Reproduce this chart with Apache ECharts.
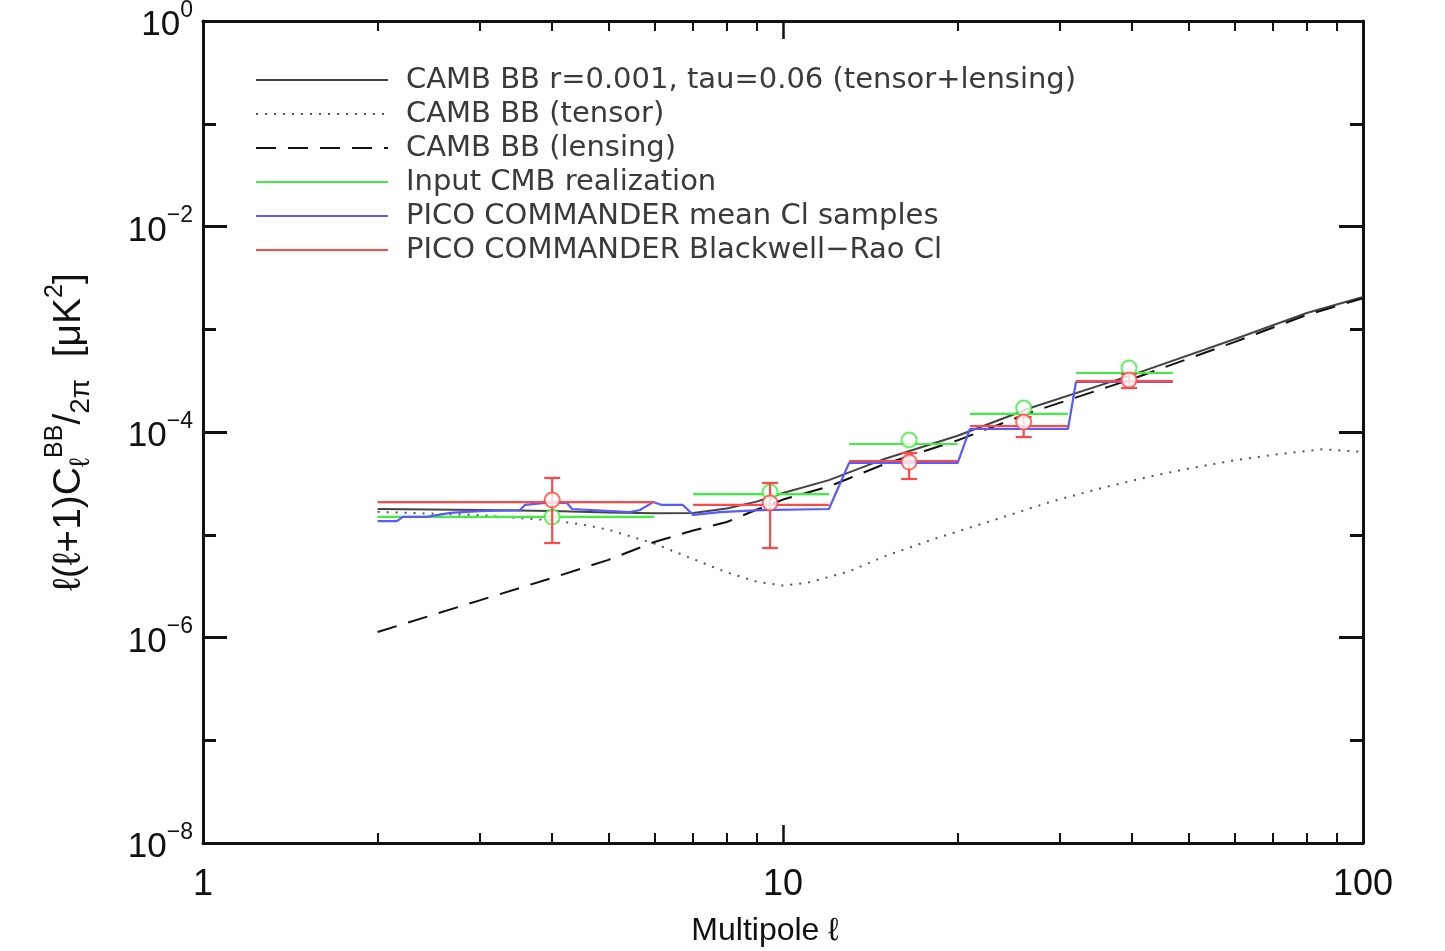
<!DOCTYPE html>
<html>
<head>
<meta charset="utf-8">
<title>BB power spectrum</title>
<script src="https://cdn.jsdelivr.net/npm/echarts@6/dist/echarts.min.js"></script>
<style>
  html, body { margin: 0; padding: 0; background: #fff; }
  #chart { width: 1445px; height: 951px; }
</style>
</head>
<body>
<div id="chart"></div>
<script>
'use strict'

// CAMB theory curves: multipole l -> l(l+1)C_l/2pi [uK^2]
const totalEll = [2, 3, 4, 5, 6, 7, 8, 9, 10, 12, 15, 20, 27, 40, 60, 80, 100]
const totalVal = [1.78e-5, 1.74e-5, 1.70e-5, 1.65e-5, 1.62e-5, 1.63e-5, 1.8e-5, 2.1e-5, 2.55e-5, 3.4e-5, 5.5e-5, 9.2e-5, 1.75e-4, 3.6e-4, 8.0e-4, 1.44e-3, 2.06e-3]

const tensorEll = [2, 3, 4, 4.5, 5, 6, 7, 8, 9, 10, 11, 13, 15, 18, 24, 29, 35, 43, 50, 60, 70, 85, 100]
const tensorVal = [1.67e-5, 1.55e-5, 1.38e-5, 1.26e-5, 1.12e-5, 8.2e-6, 5.8e-6, 4.3e-6, 3.5e-6, 3.2e-6, 3.4e-6, 4.4e-6, 6.2e-6, 8.9e-6, 1.49e-5, 2.1e-5, 2.8e-5, 3.7e-5, 4.4e-5, 5.3e-5, 6.0e-5, 6.8e-5, 6.4e-5]

const lensEll = [2, 3, 4, 5, 6, 7, 8, 9, 10, 12, 15, 20, 27, 40, 60, 80, 100]
const lensVal = [1.13e-6, 2.3e-6, 3.8e-6, 5.7e-6, 8.5e-6, 1.1e-5, 1.33e-5, 1.75e-5, 2.2e-5, 2.95e-5, 4.9e-5, 8.3e-5, 1.58e-4, 3.28e-4, 7.5e-4, 1.38e-3, 2.0e-3]

// multipole bins
const binLo = [2, 7, 13, 21, 32]
const binHi = [6, 12, 20, 31, 47]
const binMid = [4, 9.5, 16.5, 26, 39.5]

// input realization (binned) and its markers
const inputVal = [1.49e-5, 2.49e-5, 7.64e-5, 1.50e-4, 3.75e-4]
const inputPts = [1.49e-5, 2.61e-5, 8.36e-5, 1.71e-4, 4.2e-4]

// Blackwell-Rao (binned), markers and error bars
const brVal = [2.08e-5, 1.95e-5, 5.22e-5, 1.14e-4, 3.13e-4]
const brPts = [2.18e-5, 2.04e-5, 5.1e-5, 1.25e-4, 3.21e-4]
const brLo = [8.3e-6, 7.43e-6, 3.49e-5, 8.93e-5, 2.68e-4]
const brHi = [3.57e-5, 3.19e-5, 6.25e-5, 1.40e-4, 3.67e-4]

// mean Cl samples
const meanEll = [2, 2.16, 2.21, 2.43, 2.67, 3.0, 3.52, 3.59, 3.89, 4.24, 4.33, 5.45, 5.67, 5.97, 6.18, 6.72, 7.0, 7.79, 9.13, 12, 13, 20, 21, 31, 32, 47]
const meanVal = [1.36e-5, 1.36e-5, 1.49e-5, 1.49e-5, 1.63e-5, 1.70e-5, 1.74e-5, 1.95e-5, 2.04e-5, 2.04e-5, 1.78e-5, 1.66e-5, 1.74e-5, 2.08e-5, 1.95e-5, 1.95e-5, 1.56e-5, 1.66e-5, 1.74e-5, 1.78e-5, 4.99e-5, 4.99e-5, 1.07e-4, 1.07e-4, 3.07e-4, 3.07e-4]

const xMinorTicks = [2, 3, 4, 5, 6, 7, 8, 9, 20, 30, 40, 50, 60, 70, 80, 90]

const NAMES = [
  'CAMB BB r=0.001, tau=0.06 (tensor+lensing)',
  'CAMB BB (tensor)',
  'CAMB BB (lensing)',
  'Input CMB realization',
  'PICO COMMANDER mean Cl samples',
  'PICO COMMANDER Blackwell\u2212Rao Cl'
]

const GREEN = '#3fee3f'
const BLUE = '#5a5aff'
const RED = '#ff4848'
const INK = '#111'
const FONT = 'Liberation Sans, DejaVu Sans, sans-serif'

const zip = (a, b) => a.map((v, i) => [v, b[i]])
const steps = (vals) => {
  const out = []
  binLo.forEach((l, i) => {
    out.push([l, vals[i]], [binHi[i], vals[i]], [binHi[i], '-'])
  })
  return out
}

function xAxisBase (pos, minor) {
  return {
    type: 'log',
    logBase: 10,
    min: 1,
    max: 100,
    position: pos,
    gridIndex: 0,
    splitLine: { show: false },
    axisLine: { show: !minor, onZero: false, lineStyle: { color: INK, width: 3 } },
    axisTick: minor
      ? { show: true, inside: true, length: 10, customValues: xMinorTicks, lineStyle: { color: INK, width: 2 } }
      : { show: true, inside: true, length: 18, lineStyle: { color: INK, width: 2.5 } },
    axisLabel: { show: false }
  }
}

function yAxisBase (pos, interval, len, line) {
  return {
    type: 'log',
    logBase: 10,
    min: 1e-8,
    max: 1,
    interval,
    position: pos,
    gridIndex: 0,
    splitLine: { show: false },
    axisLine: { show: line, onZero: false, lineStyle: { color: INK, width: 3 } },
    axisTick: { show: true, inside: true, length: len, lineStyle: { color: INK, width: 3 } },
    axisLabel: { show: false }
  }
}

const xMain = xAxisBase('bottom', false)
xMain.axisLabel = {
  show: true,
  margin: 24,
  fontSize: 36,
  fontFamily: FONT,
  color: INK,
  formatter: v => String(Math.round(v))
}
xMain.name = 'Multipole \u2113'
xMain.nameLocation = 'middle'
xMain.nameGap = 72
xMain.nameTextStyle = { fontSize: 32, fontFamily: FONT, color: INK, padding: [0, 36, 0, 0] }

const yMain = yAxisBase('left', 2, 24, true)
yMain.axisLabel = {
  show: true,
  margin: 10,
  formatter: v => {
    const e = Math.round(Math.log10(v))
    return '{b|10}{e|' + (e === 0 ? '0' : '\u2212' + (-e)) + '}'
  },
  rich: {
    b: { fontSize: 35, fontFamily: FONT, color: INK, verticalAlign: 'bottom', lineHeight: 44 },
    e: { fontSize: 23, fontFamily: FONT, color: INK, verticalAlign: 'top', lineHeight: 44 }
  }
}
yMain.name = '{a|\u2113(\u2113+1)C}{s|\u2113}{p|BB}{a|/}{s|2\u03c0}{a|  [\u03bcK}{p|2}{a|]}'
yMain.nameLocation = 'middle'
yMain.nameRotate = 90
yMain.nameGap = 108
yMain.nameTextStyle = {
  rich: {
    a: { fontSize: 39, fontFamily: FONT, color: INK, lineHeight: 52, verticalAlign: 'middle' },
    s: { fontSize: 28, fontFamily: FONT, color: INK, lineHeight: 52, verticalAlign: 'bottom' },
    p: { fontSize: 25, fontFamily: FONT, color: INK, lineHeight: 52, verticalAlign: 'top' }
  }
}

const lineSeries = (name, data, color, width, type, z) => ({
  name,
  type: 'line',
  data,
  symbol: 'none',
  showSymbol: false,
  connectNulls: false,
  lineStyle: { color, width, type },
  itemStyle: { color },
  z
})

const option = {
  animation: false,
  backgroundColor: '#fff',
  grid: { left: 203, right: 82, top: 21, bottom: 108, outerBoundsMode: 'none' },
  legend: {
    data: NAMES,
    orient: 'vertical',
    left: 255,
    top: 65,
    padding: 0,
    itemGap: 4,
    itemWidth: 132,
    itemHeight: 14,
    selectedMode: false,
    itemStyle: { opacity: 0 },
    textStyle: { fontSize: 29, fontFamily: 'DejaVu Sans, sans-serif', color: '#3a3a3a', lineHeight: 30, padding: [0, 0, 0, 13] }
  },
  xAxis: [xMain, xAxisBase('bottom', true), xAxisBase('top', false), xAxisBase('top', true)],
  yAxis: [yMain, yAxisBase('left', 1, 13, false), yAxisBase('right', 2, 24, true), yAxisBase('right', 1, 13, false)],
  series: [
    lineSeries(NAMES[0], zip(totalEll, totalVal), '#444', 2, 'solid', 3),
    lineSeries(NAMES[1], zip(tensorEll, tensorVal), '#555', 2, [2, 7], 3),
    lineSeries(NAMES[2], zip(lensEll, lensVal), '#111', 2, [20, 12], 3),
    lineSeries(NAMES[3], steps(inputVal), GREEN, 2.2, 'solid', 4),
    lineSeries(NAMES[4], zip(meanEll, meanVal), BLUE, 2.2, 'solid', 4),
    lineSeries(NAMES[5], steps(brVal), RED, 2.2, 'solid', 5),
    {
      name: 'input points',
      type: 'scatter',
      data: zip(binMid, inputPts),
      symbol: 'emptyCircle',
      symbolSize: 15,
      itemStyle: { color: GREEN, borderColor: GREEN, borderWidth: 2 },
      z: 6
    },
    {
      name: 'BR error bars',
      type: 'custom',
      data: binMid.map((l, i) => [l, brLo[i], brHi[i]]),
      encode: { x: 0, y: [1, 2] },
      renderItem (params, api) {
        const lo = api.coord([api.value(0), api.value(1)])
        const hi = api.coord([api.value(0), api.value(2)])
        const w = 8
        const style = { stroke: RED, lineWidth: 2.2 }
        return {
          type: 'group',
          children: [
            { type: 'line', shape: { x1: lo[0], y1: lo[1], x2: hi[0], y2: hi[1] }, style },
            { type: 'line', shape: { x1: lo[0] - w, y1: lo[1], x2: lo[0] + w, y2: lo[1] }, style },
            { type: 'line', shape: { x1: hi[0] - w, y1: hi[1], x2: hi[0] + w, y2: hi[1] }, style }
          ]
        }
      },
      z: 7
    },
    {
      name: 'BR points',
      type: 'scatter',
      data: zip(binMid, brPts),
      symbol: 'emptyCircle',
      symbolSize: 15,
      itemStyle: { color: RED, borderColor: RED, borderWidth: 2 },
      z: 8
    }
  ]
}

const chart = echarts.init(document.getElementById('chart'), null, { renderer: 'canvas' })
chart.setOption(option)
</script>
</body>
</html>
